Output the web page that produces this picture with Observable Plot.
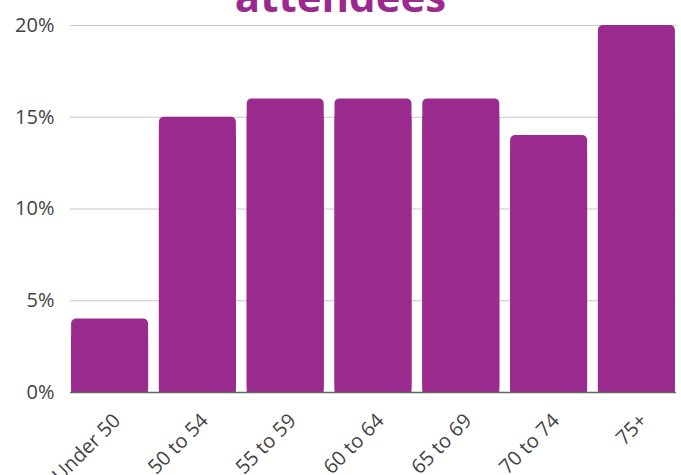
<!DOCTYPE html>
<html>
<head>
<meta charset="utf-8">
<script src="https://cdn.jsdelivr.net/npm/d3@7"></script>
<script src="https://cdn.jsdelivr.net/npm/@observablehq/plot@0.6"></script>
<style>
  html, body { margin: 0; padding: 0; background: #fff; overflow: hidden; }
  #wrap { position: relative; width: 681px; height: 475px; }
  #title { position: absolute; left: 0; width: 681px; top: -25px; text-align: center;
    font-family: "Open Sans", sans-serif; font-weight: 700; font-size: 42px; line-height: 1;
    color: #9b2a8e; white-space: nowrap; }
  #chart { position: absolute; left: 0; top: 0; }
</style>
</head>
<body>
<div id="wrap">
  <div id="chart"></div>
  <div id="title">attendees</div>
</div>
<script>
const categories = ["Under 50", "50 to 54", "55 to 59", "60 to 64", "65 to 69", "70 to 74", "75+"];
const values = [4, 15, 16, 16, 16, 14, 20];
const yTicks = [0, 5, 10, 15, 20];
const barColor = "#9b2a8e";

const data = categories.map((c, i) => ({ age: c, pct: values[i] }));

const chart = Plot.plot({
  width: 681,
  height: 475,
  marginLeft: 70,
  marginRight: 5,
  marginTop: 25,
  marginBottom: 83,
  style: { fontFamily: "Open Sans, sans-serif", fontSize: "20px", color: "#444", background: "#fff", overflow: "visible" },
  x: { domain: categories, paddingInner: 0.123, paddingOuter: 0.0125, round: false, label: null, axis: null },
  y: { domain: [0, 20], label: null },
  marks: [
    Plot.ruleY(yTicks, { stroke: "#c8c8c8", strokeWidth: 1 }),
    Plot.barY(data, { x: "age", y: "pct", fill: barColor, rx: 5 }),
    Plot.barY(data, { x: "age", y1: 0, y2: d => d.pct - 1, fill: barColor }),
    Plot.ruleY([0], { stroke: "#666", strokeWidth: 1.5 }),
    Plot.axisY({ ticks: yTicks, tickFormat: d => d + "%", tickSize: 0, tickPadding: 16, fontSize: 20 }),
    Plot.text(categories, { x: d => d, y: () => 0, text: d => d, rotate: -45, textAnchor: "end",
      fontSize: 20, fill: "#444", dx: 7, dy: 25 })
  ]
});
document.getElementById("chart").appendChild(chart);
</script>
</body>
</html>
